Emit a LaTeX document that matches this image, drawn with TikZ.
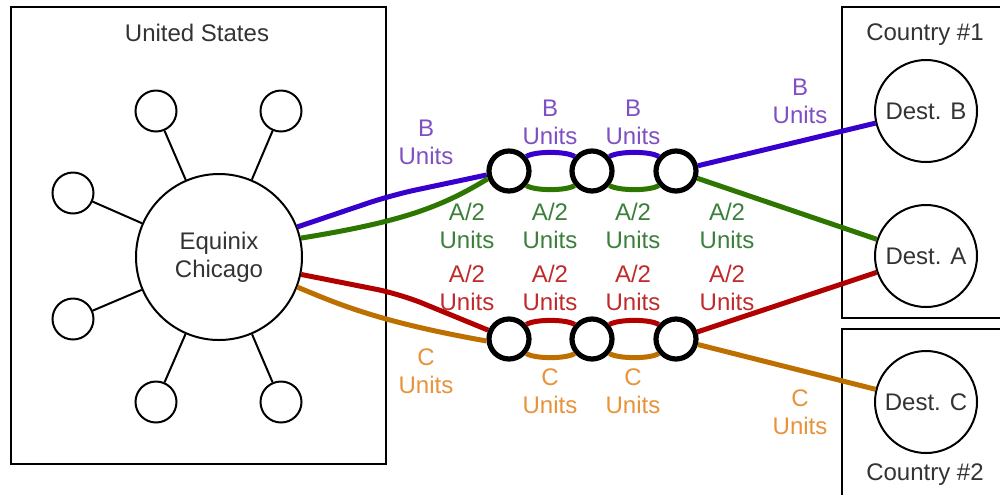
\documentclass[tikz,border=0pt]{standalone}
\usepackage{fontspec}
\setmainfont{Liberation Sans}
\definecolor{textgray}{HTML}{333333}
\definecolor{cblue}{HTML}{3700CC}
\definecolor{tblue}{HTML}{7F4FC4}
\definecolor{cgreen}{HTML}{2D7600}
\definecolor{tgreen}{HTML}{3A7F3A}
\definecolor{cred}{HTML}{B20000}
\definecolor{tred}{HTML}{C02A2A}
\definecolor{corange}{HTML}{BD7000}
\definecolor{torange}{HTML}{E8923A}
\begin{document}
\begin{tikzpicture}[x=0.5pt,y=-0.5pt,
  txt/.style={text=textgray, font=\fontsize{12}{14}\selectfont, align=center, inner sep=0pt},
  lbl/.style={font=\fontsize{12}{14}\selectfont, align=center, inner sep=0pt},
  region/.style={draw=black, line width=1pt},
  site/.style={circle, draw=black, line width=1pt, minimum size=20.5pt, inner sep=0pt},
  hub/.style={circle, draw=black, line width=1pt, minimum size=83pt, inner sep=0pt, txt},
  dest/.style={circle, draw=black, line width=1pt, minimum size=51pt, inner sep=0pt, txt},
  ring/.style={circle, draw=black, line width=2.6pt, minimum size=20pt, inner sep=0pt},
  spoke/.style={draw=black, line width=1pt},
  link/.style={line width=2.5pt}]
\useasboundingbox (0,0) rectangle (1000,494);
\clip (0,0) rectangle (1000,494);

% regions
\draw[region] (11,7) rectangle (386,464);
\draw[region] (842,7) rectangle (1010,318);
\draw[region] (842,329) rectangle (1010,510);
\node[txt] (us) at (197,33) {United States};
\node[txt] (c1) at (925,35) {Country \#1};
\node[txt] (c2) at (925,475) {Country \#2};

% Chicago hub and its local sites
\node[hub] (eq) at (219,257) {Equinix\\Chicago};
\node[site] (s1) at (156,111) {};
\node[site] (s2) at (281,111) {};
\node[site] (s3) at (73,193) {};
\node[site] (s4) at (73,319) {};
\node[site] (s5) at (156,402) {};
\node[site] (s6) at (281,402) {};
\foreach \s in {s1,s2,s3,s4,s5,s6} \draw[spoke] (eq) -- (\s);

% destinations
\node[dest] (dB) at (926,111) {Dest. B};
\node[dest] (dA) at (926,256) {Dest. A};
\node[dest] (dC) at (926,402) {Dest. C};

% relay rings
\node[ring] (r1) at (509,171) {};
\node[ring] (r2) at (592,171) {};
\node[ring] (r3) at (676,171) {};
\node[ring] (r4) at (509,339) {};
\node[ring] (r5) at (592,339) {};
\node[ring] (r6) at (676,339) {};

% upper chain: B and A/2
\draw[link, cblue, rounded corners=12pt] (eq.21) -- (392,195) -- (r1.190);
\draw[link, cgreen] (eq.13) .. controls (400,222) and (440,208) .. (r1.200);
\draw[link, cblue] (r1.40) .. controls (535,151) and (566,151) .. (r2.140);
\draw[link, cblue] (r2.40) .. controls (619,151) and (650,151) .. (r3.140);
\draw[link, cgreen] (r1.-40) .. controls (535,191) and (566,191) .. (r2.-140);
\draw[link, cgreen] (r2.-40) .. controls (619,191) and (650,191) .. (r3.-140);
\draw[link, cblue] (r3) -- (dB);
\draw[link, cgreen] (r3) -- (dA);

% lower chain: A/2 and C
\draw[link, cred, rounded corners=12pt] (eq.-12) -- (400,294) -- (r4.157);
\draw[link, corange] (eq.-21) .. controls (340,305) and (380,322) .. (r4.185);
\draw[link, cred] (r4.40) .. controls (535,319) and (566,319) .. (r5.140);
\draw[link, cred] (r5.40) .. controls (619,319) and (650,319) .. (r6.140);
\draw[link, corange] (r4.-40) .. controls (535,359) and (566,359) .. (r5.-140);
\draw[link, corange] (r5.-40) .. controls (619,359) and (650,359) .. (r6.-140);
\draw[link, cred] (r6) -- (dA);
\draw[link, corange] (r6) -- (dC);

% flow labels
\node[lbl, text=tblue] (b1) at (426,142) {B\\Units};
\node[lbl, text=tblue] (b2) at (550,122) {B\\Units};
\node[lbl, text=tblue] (b3) at (633,122) {B\\Units};
\node[lbl, text=tblue] (b4) at (800,101) {B\\Units};
\node[lbl, text=tgreen] (g1) at (467,226) {A/2\\Units};
\node[lbl, text=tgreen] (g2) at (550,226) {A/2\\Units};
\node[lbl, text=tgreen] (g3) at (633,226) {A/2\\Units};
\node[lbl, text=tgreen] (g4) at (727,226) {A/2\\Units};
\node[lbl, text=tred] (a1) at (467,288) {A/2\\Units};
\node[lbl, text=tred] (a2) at (550,288) {A/2\\Units};
\node[lbl, text=tred] (a3) at (633,288) {A/2\\Units};
\node[lbl, text=tred] (a4) at (727,288) {A/2\\Units};
\node[lbl, text=torange] (o1) at (426,371) {C\\Units};
\node[lbl, text=torange] (o2) at (550,391) {C\\Units};
\node[lbl, text=torange] (o3) at (633,391) {C\\Units};
\node[lbl, text=torange] (o4) at (800,412) {C\\Units};
\end{tikzpicture}
\end{document}
